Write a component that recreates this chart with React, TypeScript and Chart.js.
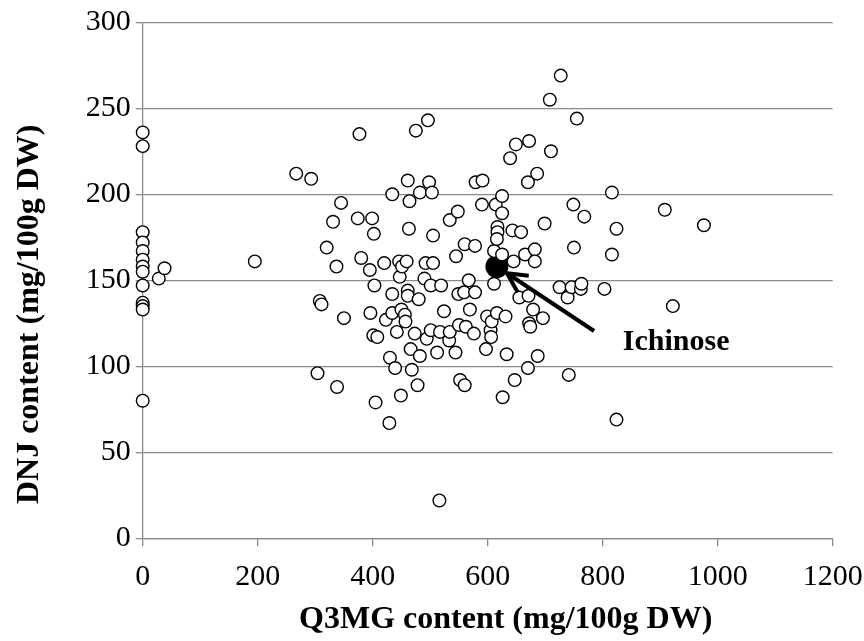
import React, { useEffect, useRef } from "react";
import { Chart, registerables } from "chart.js";

Chart.register(...registerables);

// Q3MG content (mg/100g DW) of each accession
const q3mgValues = [
  0, 0, 0, 0, 0, 0, 0, 0, 0, 0, 0, 0, 0,
  28, 38,
  195, 267, 293, 304, 308, 311, 320, 331, 337, 338, 345, 350, 374, 377, 380, 395, 396, 399, 401, 402, 403, 405, 408,
  420, 423, 429, 430, 434, 434, 434, 439, 442, 446, 447, 449, 450, 451, 456, 457, 459, 461, 461, 461, 463, 464, 466, 468, 473, 475, 478, 480, 482, 482, 490, 492, 494, 496, 498, 501, 501, 503, 505, 505,
  512, 516, 517, 519, 524, 533, 534, 534, 544, 545, 548, 549, 550, 552, 559, 560, 560, 562, 567, 569, 576, 578, 578, 579, 590, 591, 597, 599,
  605, 606, 607, 611, 611, 614, 616, 617, 617, 616, 625, 625, 625, 626, 631, 633, 639, 643, 645, 647, 649, 655, 658, 665, 670, 670, 671, 672, 672, 674, 679, 682, 682, 686, 687, 696, 699,
  708, 710, 725, 727, 739, 741, 746, 749, 750, 755, 762, 763, 768,
  803, 816, 816, 824, 824, 908, 922, 976,
];

// DNJ content (mg/100g DW) of the same accessions, in the same order
const dnjValues = [
  236, 228, 178, 172, 167, 162, 158, 155, 147, 137, 135, 133, 80,
  151, 157,
  161, 212, 209, 96, 138, 136, 169, 184, 158, 88, 195, 128, 186, 235, 163, 156, 131, 186, 118, 177, 147, 79, 117,
  160, 127, 67, 105, 200, 142, 131, 99, 120, 161, 152, 83, 133, 158, 130, 126, 161, 208, 144, 141, 180, 196, 110, 98, 119, 237, 89, 139, 201, 106, 151, 160, 116, 243, 207, 147, 121, 201, 176, 160,
  108, 22, 120, 147, 132, 115, 120, 185, 108, 164, 190, 142, 124, 92, 143, 89, 171, 123, 150, 133, 119, 170, 143, 207, 194, 208, 110, 129,
  121, 117, 126, 148, 167, 194, 131, 181, 178, 174, 199, 189, 165, 82, 129, 107, 221, 179, 161, 92, 229, 140, 178, 165, 207, 99, 141, 231, 125, 123, 133, 168, 161, 212, 106, 128, 183,
  255, 225, 146, 269, 140, 95, 146, 194, 169, 244, 145, 148, 187,
  145, 201, 165, 180, 69, 191, 135, 182,
];

// Highlighted cultivar
const highlightName = "Ichinose";
const highlightQ3mg = [616];
const highlightDnj = [158];

// Axis ticks
const xTicks = [0, 200, 400, 600, 800, 1000, 1200];
const yTicks = [0, 50, 100, 150, 200, 250, 300];

const xTitle = "Q3MG content (mg/100g DW)";
const yTitle = "DNJ content (mg/100g DW)";

const SERIF = "'Liberation Serif', 'Times New Roman', Times, serif";
const GRID = "#8a8a8a";
const DOT_R = 6.3;
const BIG_R = 11.5;

// where the arrow starts and where the label's text sits, in data units
const arrowTail = { x: 785, y: 120.5 };
const labelAt = { x: 835, y: 109.5 };

// axis titles, drawn a little off the plot's centre line
const axisTitles = {
  id: "axisTitles",
  afterDraw(chart: any) {
    const { ctx, chartArea } = chart;
    ctx.save();
    ctx.fillStyle = "#000";
    ctx.font = `bold 32px ${SERIF}`;
    ctx.textAlign = "center";
    ctx.textBaseline = "middle";
    const midX = (chartArea.left + chartArea.right) / 2 + 18;
    ctx.fillText(xTitle, midX, chart.height - 21);
    const midY = (chartArea.top + chartArea.bottom) / 2 + 34;
    ctx.translate(30, midY);
    ctx.rotate(-Math.PI / 2);
    ctx.fillText(yTitle, 0, 0);
    ctx.restore();
  },
};

const ichinoseArrow = {
  id: "ichinoseArrow",
  afterDatasetsDraw(chart: any) {
    const { ctx, scales } = chart;
    const xs = scales.x;
    const ys = scales.y;
    const cx = xs.getPixelForValue(highlightQ3mg[0]);
    const cy = ys.getPixelForValue(highlightDnj[0]);
    const ex = xs.getPixelForValue(arrowTail.x);
    const ey = ys.getPixelForValue(arrowTail.y);
    const len = Math.hypot(ex - cx, ey - cy);
    const ux = (ex - cx) / len;
    const uy = (ey - cy) / len;
    const tx = cx + ux * (BIG_R + 0.5);
    const ty = cy + uy * (BIG_R + 0.5);

    ctx.save();
    ctx.strokeStyle = "#000";
    ctx.lineWidth = 4;
    ctx.lineCap = "butt";
    ctx.beginPath();
    ctx.moveTo(ex, ey);
    ctx.lineTo(tx + ux * 2, ty + uy * 2);
    ctx.stroke();

    // open arrow head
    const ang = Math.atan2(uy, ux);
    const head = 22;
    const spread = (27 * Math.PI) / 180;
    ctx.lineJoin = "miter";
    ctx.beginPath();
    ctx.moveTo(tx + head * Math.cos(ang + spread), ty + head * Math.sin(ang + spread));
    ctx.lineTo(tx, ty);
    ctx.lineTo(tx + head * Math.cos(ang - spread), ty + head * Math.sin(ang - spread));
    ctx.stroke();

    ctx.fillStyle = "#000";
    ctx.font = `bold 30px ${SERIF}`;
    ctx.textAlign = "left";
    ctx.textBaseline = "alphabetic";
    ctx.fillText(highlightName, xs.getPixelForValue(labelAt.x), ys.getPixelForValue(labelAt.y));
    ctx.restore();
  },
};

export default function App() {
  const canvasRef = useRef<HTMLCanvasElement | null>(null);

  useEffect(() => {
    const canvas = canvasRef.current;
    if (!canvas) return;

    const accessions = q3mgValues.map((q, i) => ({ x: q, y: dnjValues[i] }));
    const highlighted = highlightQ3mg.map((q, i) => ({ x: q, y: highlightDnj[i] }));

    const chart = new Chart(canvas, {
      type: "scatter",
      data: {
        datasets: [
          {
            label: "Accessions",
            data: accessions,
            pointRadius: DOT_R,
            pointBorderWidth: 1.4,
            pointBorderColor: "#000",
            pointBackgroundColor: "#fff",
            clip: false,
          },
          {
            label: highlightName,
            data: highlighted,
            pointRadius: BIG_R,
            pointBorderWidth: 0,
            pointBorderColor: "#000",
            pointBackgroundColor: "#000",
            clip: false,
          },
        ],
      },
      options: {
        responsive: false,
        animation: false,
        events: [],
        layout: { padding: { left: 0, right: 31.3, top: 22.3, bottom: 0 } },
        plugins: {
          legend: { display: false },
          tooltip: { enabled: false },
        },
        scales: {
          x: {
            type: "linear",
            min: 0,
            max: 1200,
            afterBuildTicks: (scale: any) => {
              scale.ticks = xTicks.map((v) => ({ value: v }));
            },
            afterFit: (scale: any) => {
              scale.height = 102.7;
              scale.paddingLeft = 0;
              scale.paddingRight = 0;
            },
            ticks: {
              autoSkip: false,
              maxRotation: 0,
              padding: 13,
              color: "#000",
              font: { family: SERIF, size: 30 },
              callback: (v: any) => String(v),
            },
            grid: {
              drawOnChartArea: false,
              drawTicks: true,
              tickLength: 8,
              color: GRID,
              lineWidth: 1.3,
            },
            border: { display: true, color: GRID, width: 1.3 },
            title: { display: false },
          },
          y: {
            type: "linear",
            min: 0,
            max: 300,
            afterBuildTicks: (scale: any) => {
              scale.ticks = yTicks.map((v) => ({ value: v }));
            },
            afterFit: (scale: any) => {
              scale.width = 142.7;
              scale.paddingTop = 0;
              scale.paddingBottom = 0;
            },
            ticks: {
              autoSkip: false,
              padding: 5,
              color: "#000",
              font: { family: SERIF, size: 30 },
              callback: (v: any) => String(v),
            },
            grid: {
              drawOnChartArea: true,
              drawTicks: true,
              tickLength: 7,
              color: GRID,
              lineWidth: 1.3,
            },
            border: { display: true, color: GRID, width: 1.3 },
            title: { display: false },
          },
        },
      },
      plugins: [ichinoseArrow, axisTitles],
    });

    return () => chart.destroy();
  }, []);

  return (
    <canvas
      ref={canvasRef}
      width={864}
      height={641}
      style={{ position: "fixed", left: 0, top: 0, display: "block", background: "#fff" }}
    />
  );
}
